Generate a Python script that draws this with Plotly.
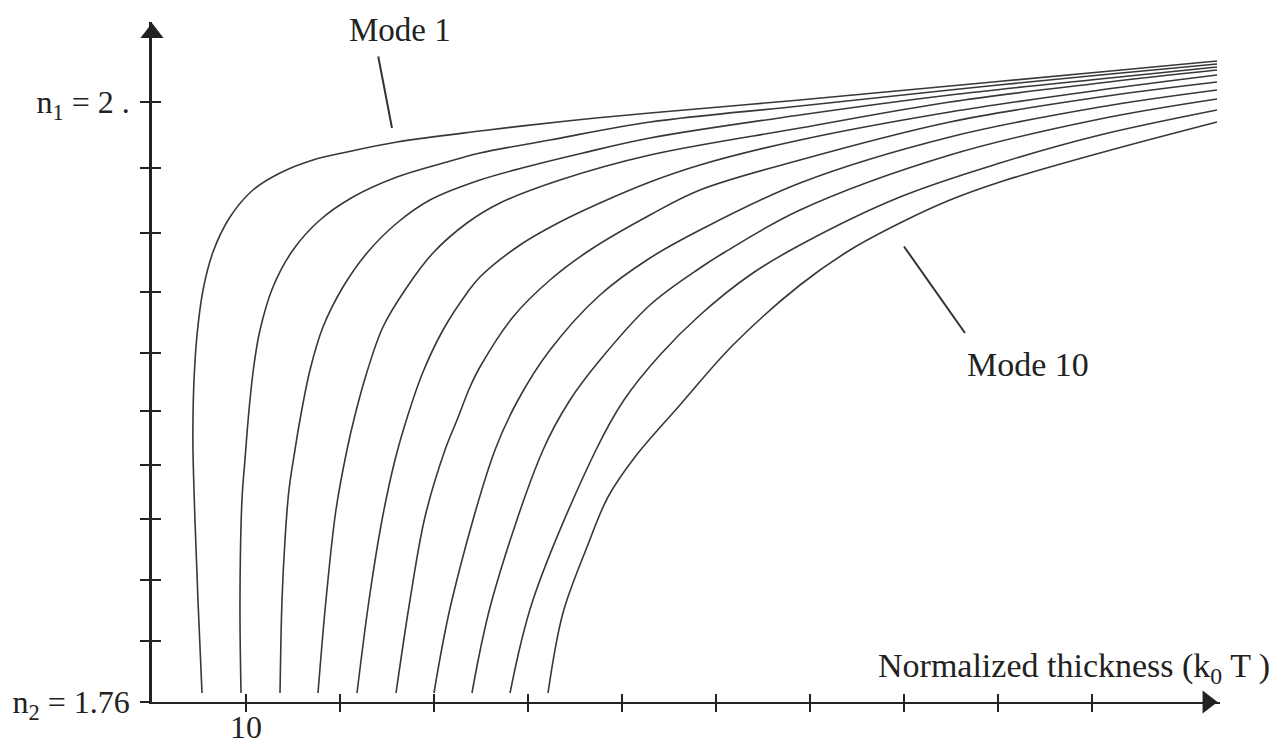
import plotly.graph_objects as go

# ---- data ----
mode_01_x = [5.32, 4.89, 4.57, 4.36, 4.36, 4.47, 4.79, 5.43, 6.49, 8.30, 10.74, 13.62, 17.13, 20.74, 26.06, 34.89, 44.15, 52.98, 68.94, 84.89, 100.85, 113.3]
mode_01_y = [1.7636, 1.8008, 1.8328, 1.8608, 1.8728, 1.8888, 1.9068, 1.9248, 1.9400, 1.9540, 1.9648, 1.9716, 1.9768, 1.9800, 1.9840, 1.9884, 1.9924, 1.9956, 2.0008, 2.0064, 2.0120, 2.0164]

mode_02_x = [9.47, 9.36, 9.57, 9.89, 10.32, 10.85, 11.49, 12.87, 15.0, 17.87, 21.38, 26.06, 31.38, 34.89, 42.34, 52.98, 68.94, 84.89, 100.85, 113.3]
mode_02_y = [1.7636, 1.8008, 1.8408, 1.8568, 1.8768, 1.8948, 1.9088, 1.9260, 1.9408, 1.9528, 1.9620, 1.9700, 1.9760, 1.9796, 1.9848, 1.9920, 1.9984, 2.0048, 2.0108, 2.0152]

mode_03_x = [13.62, 13.83, 14.15, 14.57, 15.21, 15.74, 16.81, 18.19, 20.32, 22.87, 26.06, 29.57, 34.89, 40.21, 45.85, 52.98, 68.94, 84.89, 100.85, 113.3]
mode_03_y = [1.7636, 1.8008, 1.8248, 1.8448, 1.8608, 1.8728, 1.8928, 1.9100, 1.9260, 1.9396, 1.9516, 1.9608, 1.9688, 1.9744, 1.9796, 1.9856, 1.9948, 2.0028, 2.0092, 2.0140]

mode_04_x = [17.66, 18.51, 19.57, 20.74, 21.60, 22.87, 24.57, 27.13, 29.89, 33.51, 37.02, 43.40, 52.98, 68.94, 84.89, 100.85, 113.3]
mode_04_y = [1.7636, 1.8008, 1.8368, 1.8608, 1.8748, 1.8920, 1.9100, 1.9260, 1.9396, 1.9516, 1.9596, 1.9688, 1.9788, 1.9896, 2.0000, 2.0076, 2.0128]

mode_05_x = [21.81, 23.09, 24.47, 25.85, 27.23, 28.83, 30.96, 33.51, 34.89, 39.15, 43.40, 47.66, 52.98, 58.30, 68.94, 84.89, 100.85, 113.3]
mode_05_y = [1.7636, 1.8008, 1.8328, 1.8568, 1.8748, 1.8920, 1.9088, 1.9236, 1.9300, 1.9428, 1.9520, 1.9596, 1.9680, 1.9748, 1.9848, 1.9960, 2.0048, 2.0108]

mode_06_x = [25.96, 27.45, 29.04, 31.17, 32.45, 33.83, 34.89, 38.40, 42.34, 46.60, 52.98, 58.30, 68.94, 84.89, 100.85, 113.3]
mode_06_y = [1.7636, 1.8008, 1.8340, 1.8608, 1.8728, 1.8860, 1.8940, 1.9140, 1.9288, 1.9408, 1.9548, 1.9648, 1.9768, 1.9920, 2.0020, 2.0080]

mode_07_x = [30.0, 31.91, 36.49, 38.94, 42.34, 47.66, 52.98, 58.30, 68.94, 84.89, 100.85, 113.3]
mode_07_y = [1.7636, 1.8008, 1.8608, 1.8808, 1.9008, 1.9228, 1.9376, 1.9488, 1.9676, 1.9860, 1.9980, 2.0048]

mode_08_x = [34.04, 36.17, 41.60, 44.47, 47.66, 52.98, 58.30, 60.96, 68.94, 84.89, 100.85, 113.3]
mode_08_y = [1.7636, 1.8008, 1.8608, 1.8808, 1.8968, 1.9188, 1.9336, 1.9400, 1.9568, 1.9788, 1.9932, 2.0012]

mode_09_x = [38.09, 40.53, 47.23, 50.21, 54.04, 58.30, 63.62, 68.94, 79.57, 90.21, 100.85, 113.3]
mode_09_y = [1.7636, 1.8008, 1.8608, 1.8808, 1.8988, 1.9148, 1.9308, 1.9428, 1.9620, 1.9756, 1.9868, 1.9968]

mode_10_x = [42.13, 43.72, 46.28, 48.51, 51.38, 56.17, 61.81, 68.94, 74.26, 79.79, 84.89, 90.21, 100.85, 113.3]
mode_10_y = [1.7636, 1.7956, 1.8220, 1.8420, 1.8580, 1.8788, 1.9028, 1.9268, 1.9408, 1.9520, 1.9608, 1.9680, 1.9796, 1.9920]

x_tick_vals = [10, 20, 30, 40, 50, 60, 70, 80, 90, 100]
x_tick_text = ["10", "", "", "", "", "", "", "", "", ""]
y_tick_vals = [1.76, 1.7844, 1.8088, 1.8332, 1.8548, 1.8764, 1.8996, 1.924, 1.9476, 1.9736, 2.0]
y_tick_text = ["n<sub>2</sub> = 1.76", "", "", "", "", "", "", "", "", "", "n<sub>1</sub> = 2 ."]

x_label = "Normalized thickness (k<sub>0</sub> T )"
mode_first_label = "Mode 1"
mode_last_label = "Mode 10"

X_MAX = 113.62
Y_MIN, Y_MAX = 1.76, 2.032

FONT = "Liberation Serif"
INK = "#222222"
CURVE = "#383838"
FS = 34

modes_x = [mode_01_x, mode_02_x, mode_03_x, mode_04_x, mode_05_x,
           mode_06_x, mode_07_x, mode_08_x, mode_09_x, mode_10_x]
modes_y = [mode_01_y, mode_02_y, mode_03_y, mode_04_y, mode_05_y,
           mode_06_y, mode_07_y, mode_08_y, mode_09_y, mode_10_y]

fig = go.Figure()
for xs, ys in zip(modes_x, modes_y):
    fig.add_trace(go.Scatter(
        x=xs, y=ys, mode="lines",
        line=dict(color=CURVE, width=1.6, shape="spline", smoothing=1.0),
        hoverinfo="skip", showlegend=False))

# axis arrow heads
fig.add_trace(go.Scatter(
    x=[0, 112.3], y=[2.0276, 1.76], mode="markers",
    marker=dict(symbol=["triangle-up", "triangle-right"], size=20, color=INK),
    cliponaxis=False, hoverinfo="skip", showlegend=False))

# invisible trace to bring up the overlay axes (for crossing ticks)
fig.add_trace(go.Scatter(
    x=[50], y=[1.9], xaxis="x2", yaxis="y2", mode="markers",
    marker=dict(opacity=0), hoverinfo="skip", showlegend=False))

# the page body has an 8 px margin, so the figure is 8 px smaller and margins shifted
fig.update_layout(
    width=1275, height=737,
    margin=dict(l=144, r=63, t=14, b=43),
    paper_bgcolor="white", plot_bgcolor="white",
    xaxis=dict(range=[0, X_MAX], showline=True, linecolor=INK, linewidth=2,
               ticks="inside", ticklen=8, tickwidth=2, tickcolor=INK,
               tickvals=x_tick_vals, ticktext=x_tick_text,
               tickfont=dict(family=FONT, size=32, color=INK),
               ticklabelstandoff=-4, automargin=False,
               showgrid=False, zeroline=False),
    yaxis=dict(range=[Y_MIN, Y_MAX], showline=True, linecolor=INK, linewidth=2.5,
               ticks="outside", ticklen=9, tickwidth=2, tickcolor=INK,
               tickvals=y_tick_vals, ticktext=y_tick_text,
               tickfont=dict(family=FONT, size=32, color=INK),
               ticklabelstandoff=4, automargin=False,
               showgrid=False, zeroline=False),
    xaxis2=dict(range=[0, X_MAX], overlaying="x", anchor="y", side="bottom",
                ticks="outside", ticklen=9, tickwidth=2, tickcolor=INK,
                tickvals=x_tick_vals, showticklabels=False, automargin=False,
                showline=False, showgrid=False, zeroline=False),
    yaxis2=dict(range=[Y_MIN, Y_MAX], overlaying="y", anchor="x", side="left",
                ticks="inside", ticklen=9, tickwidth=2, tickcolor=INK,
                tickvals=y_tick_vals, showticklabels=False, automargin=False,
                showline=False, showgrid=False, zeroline=False),
    annotations=[
        dict(text=mode_first_label, xref="paper", yref="paper", x=0.2322, y=0.988,
             showarrow=False, font=dict(family=FONT, size=FS - 1, color=INK),
             xanchor="center", yanchor="middle"),
        dict(text=mode_last_label, xref="paper", yref="paper", x=0.8202, y=0.4956,
             showarrow=False, font=dict(family=FONT, size=FS, color=INK),
             xanchor="center", yanchor="middle"),
        dict(text=x_label, xref="paper", yref="paper", x=1.0487, y=0.05,
             showarrow=False, font=dict(family=FONT, size=FS, color=INK),
             xanchor="right", yanchor="middle"),
        dict(text="", x=25.53, y=1.9896, ax=24.04, ay=2.0188, xref="x", yref="y",
             axref="x", ayref="y", showarrow=True, arrowhead=0, arrowwidth=2,
             arrowcolor="#333333"),
        dict(text="", x=86.49, y=1.9076, ax=79.89, ay=1.9428, xref="x", yref="y",
             axref="x", ayref="y", showarrow=True, arrowhead=0, arrowwidth=2,
             arrowcolor="#333333"),
    ],
)

fig.write_html("out.html")
